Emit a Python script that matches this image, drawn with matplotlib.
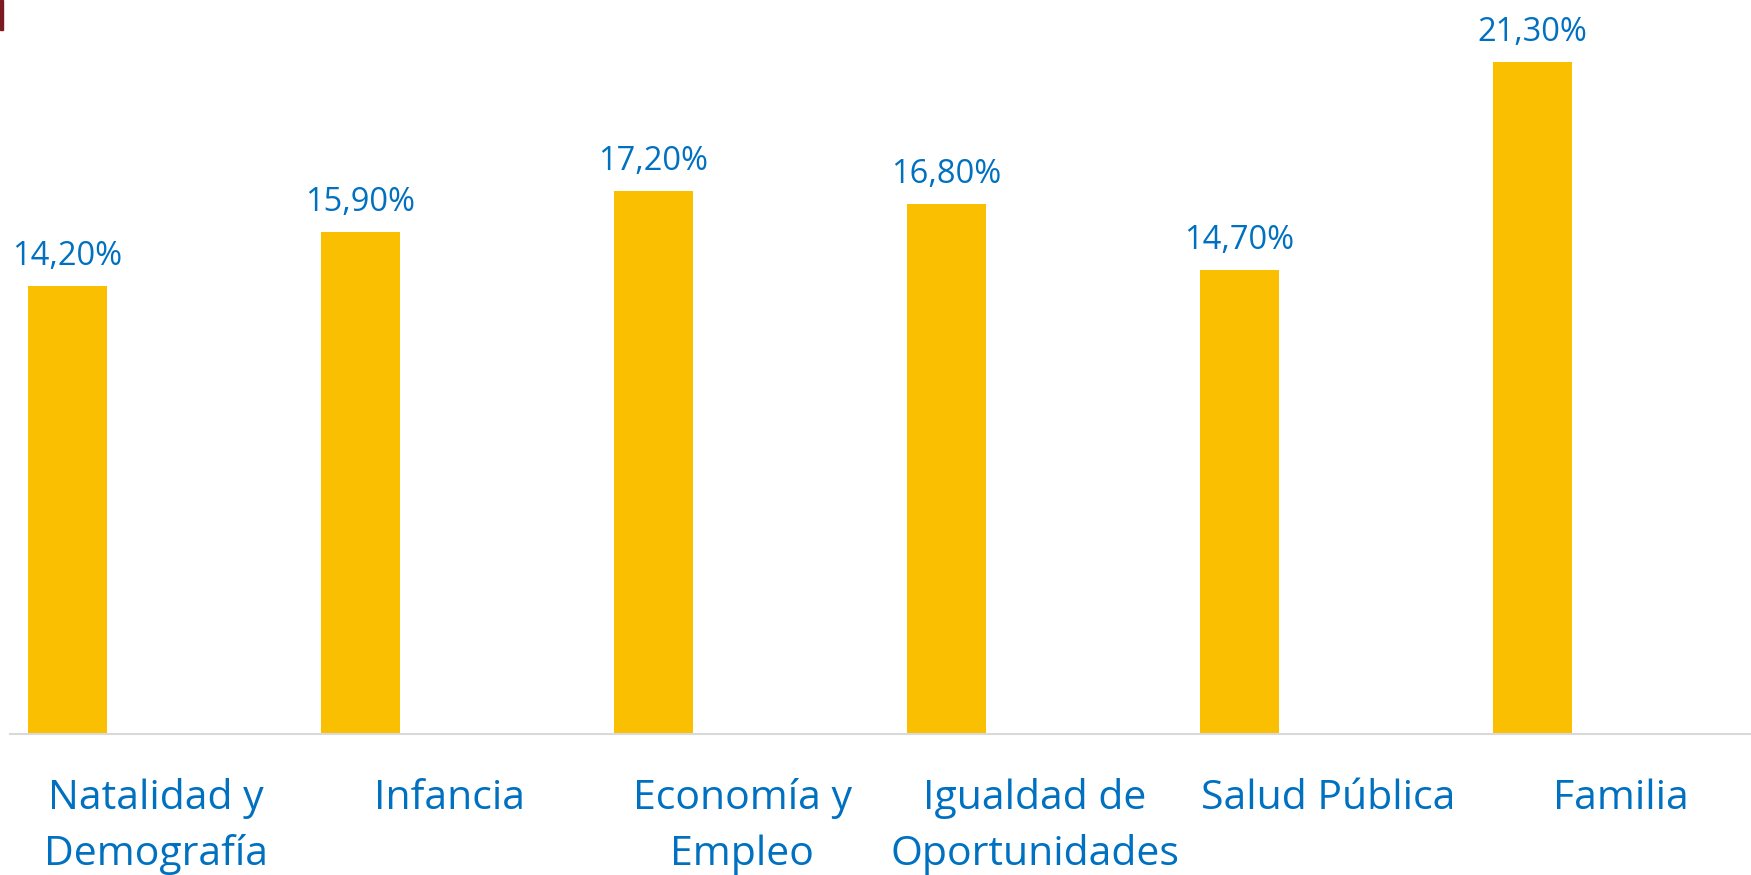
import matplotlib
matplotlib.use("Agg")
import matplotlib.pyplot as plt
from matplotlib.patches import Rectangle

categorias = ["Natalidad y\nDemografía", "Infancia", "Economía y\nEmpleo",
              "Igualdad de\nOportunidades", "Salud Pública", "Familia"]
valores = [14.2, 15.9, 17.2, 16.8, 14.7, 21.3]

amarillo = "#F9BF00"
azul = "#0070C0"

plt.rcParams['font.family'] = ['Open Sans', 'DejaVu Sans']

fig = plt.figure(figsize=(17.51, 8.75), dpi=100)
# the plot area runs a little past the right edge, like the original crop
ax = fig.add_axes([9.5 / 1751, 141 / 875, 1758 / 1751, 734 / 875])

x = list(range(len(valores)))
xb = [i - 0.302 for i in x]
ax.bar(xb, valores, width=0.27, color=amarillo, zorder=2)

for xi, v in zip(xb, valores):
    txt = f"{v:.2f}".replace(".", ",") + "%"
    ax.text(xi, v + 0.66, txt, ha="center", va="baseline",
            color=azul, fontsize=23.5)

ax.set_xlim(-0.5, 5.5)
ax.set_ylim(0, 23.25)
ax.set_yticks([])
ax.set_xticks(x)
ax.set_xticklabels(categorias, color=azul, fontsize=29.5, linespacing=1.48)
ax.tick_params(axis="x", length=0, pad=32)

for s in ["top", "right", "left"]:
    ax.spines[s].set_visible(False)
ax.spines["bottom"].set_color("#D9D9D9")
ax.spines["bottom"].set_linewidth(1.5)

# small dark red sliver at the top-left corner
fig.patches.append(Rectangle((0, 1 - 30 / 875), 2.5 / 1751, 30 / 875,
                             transform=fig.transFigure, color="#7B1A22"))

fig.savefig("out.png", dpi=100)
